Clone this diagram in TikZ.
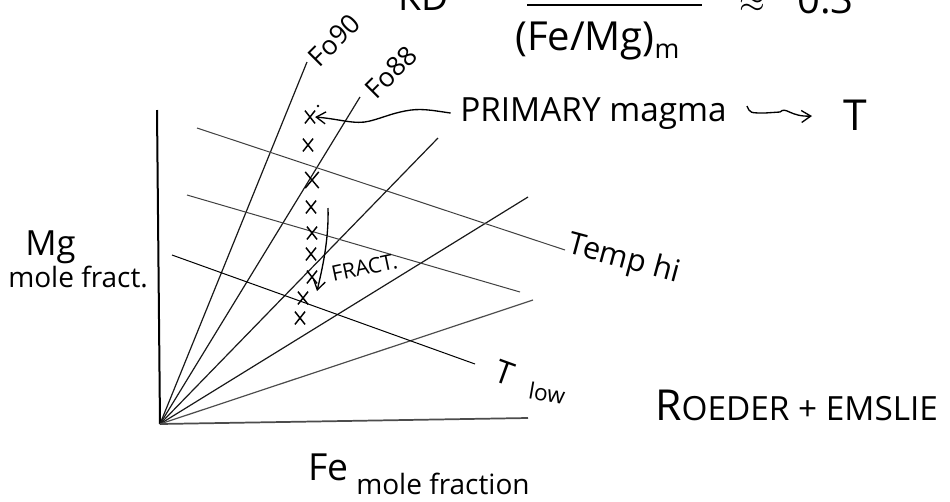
\documentclass[tikz,border=0pt]{standalone}
\usepackage{fontspec}
\setmainfont{Open Sans}
\usetikzlibrary{arrows.meta,shapes.misc}
\newcommand\hwfs[1]{\fontsize{#1}{#1}\selectfont}
\begin{document}
\begin{tikzpicture}[x=0.75pt,y=-0.75pt,
  axisline/.style={line width=1.5pt,black},
  fan/.style={line width=0.9pt,black!90},
  templine/.style={line width=0.75pt,black!75},
  xmk/.style={cross out,draw,line width=1.1pt,minimum width=6.5pt,minimum height=8.5pt,inner sep=0pt},
  barb/.style={-{Straight Barb[length=7pt,width=9pt]},line width=1pt},
  hw/.style={inner sep=0pt,text=black}
]
\useasboundingbox (0,0) rectangle (950,501);
\fill[white] (0,0) rectangle (950,501);

% axes
\coordinate (O) at (160,424);
\coordinate (ytop) at (157,110);
\coordinate (xend) at (528,418);
\draw[axisline] (ytop) -- (O);
\draw[line width=1.3pt,black!70] (O) -- (xend);

% fan of Fo lines
\coordinate (r1) at (307,62);
\coordinate (r2) at (360,97);
\coordinate (r3) at (438,138);
\coordinate (r4) at (528,197);
\coordinate (r5) at (533,300);
\foreach \r in {r1,r2,r3,r4}{\draw[fan] (O) -- (\r);}
\draw[fan,black!70] (O) -- (r5);

% temperature lines
\coordinate (a1) at (197,128); \coordinate (a2) at (565,250);
\coordinate (b1) at (187,195); \coordinate (b2) at (520,292);
\coordinate (c1) at (172,255); \coordinate (c2) at (475,364);
\draw[templine] (a1) -- (a2);
\draw[templine] (b1) -- (b2);
\draw[templine,black] (c1) -- (c2);

% crosses
\node[xmk] (x1) at (310,117) {};
\node[xmk] (x2) at (308,145) {};
\node[xmk,minimum width=9pt,minimum height=11pt] (x3) at (312,180) {};
\node[xmk] (x4) at (311,207) {};
\node[xmk] (x5) at (312,233) {};
\node[xmk] (x6) at (311,254) {};
\node[xmk] (x7) at (312,277) {};
\node[xmk] (x8) at (303,298) {};
\node[xmk] (x9) at (300,318) {};
\fill (318,106) circle (1pt);

% labels of Fo lines
\node[hw,rotate=45] (fo90) at (334,40) {\hwfs{20}Fo90};
\node[hw,rotate=45] (fo88) at (391,72) {\hwfs{20}Fo88};

% primary magma
\node[hw,anchor=base west] (pm) at (460,121) {\hwfs{25}PRIMARY magma};
\draw[barb] ([xshift=-7pt]pm.west) .. controls (430,110) and (420,108) .. (405,111)
  .. controls (390,114) and (385,117) .. (370,121)
  .. controls (355,125) and (340,119) .. (x1.east);
\node[hw,anchor=base west] (tt) at (843,130) {\hwfs{32}T};
\coordinate (sq1) at (747,106);
\coordinate (sq2) at (812,116);
\draw[barb] (sq1) .. controls (750,113) .. (765,113) -- (780,112)
  .. controls (786,106) and (790,117) .. (sq2);

% fract arrow
\coordinate (fa) at (328,208);
\coordinate (fb) at (317,291);
\draw[barb] (fa) .. controls (329,240) and (322,270) .. (fb);
\node[hw,rotate=12,anchor=base west] (fract) at (333,282) {\hwfs{16}FRACT.};

% axis labels
\node[hw,anchor=base west] (mg) at (25,255) {\hwfs{26}Mg};
\node[hw,anchor=base west] (mf) at (8,287) {\hwfs{21}mole fract.};
\node[hw,anchor=base west] (fe) at (308,480) {\hwfs{28}Fe};
\node[hw,anchor=base west] (fmf) at (356,494) {\hwfs{21}mole fraction};

% temperature labels
\node[hw,rotate=-15] (thi) at (624,260) {\hwfs{23}Temp hi};
\node[hw,rotate=-20,anchor=base west] (tlo) at (492,380) {\hwfs{24}T};
\node[hw,rotate=-10] (low) at (547,393) {\hwfs{17}low};

% reference
\node[hw,anchor=base west] (ref) at (655,420) {\hwfs{32}R\hwfs{25}OEDER + EMSLIE};

% partial formula at the top (cut by the frame)
\node[hw,anchor=base west] (kd) at (398,10) {\hwfs{28}KD};
\coordinate (bar1) at (527,5); \coordinate (bar2) at (702,5);
\draw[line width=1pt] (bar1) -- (bar2);
\node[hw,anchor=base west] (fm) at (515,50) {\hwfs{30}(Fe/Mg)\hwfs{20}\raisebox{-0.3em}{m}};
\node[hw,anchor=base] (apx) at (752,12) {\hwfs{28}$\approx$};
\node[hw,anchor=base west] (zp3) at (797,13) {\hwfs{30}0.3};
\end{tikzpicture}
\end{document}
